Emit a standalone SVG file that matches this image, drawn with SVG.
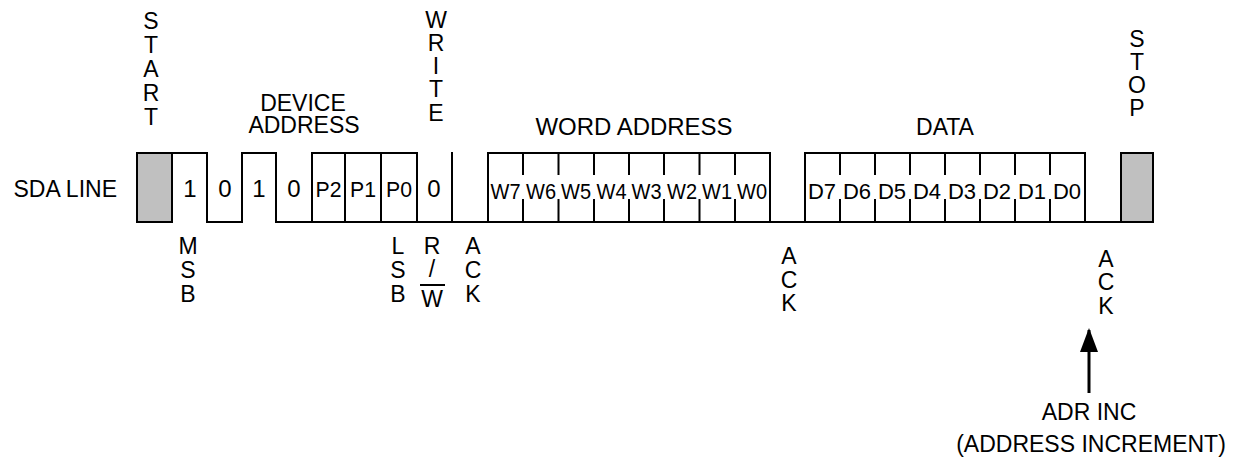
<svg xmlns="http://www.w3.org/2000/svg" width="1241" height="461" viewBox="0 0 1241 461">
<style>
  text { font-family: "Liberation Sans", Arial, sans-serif; fill: #000; }
  .lbl { font-size: 23px; }
  .mid { text-anchor: middle; }
  .bit { font-size: 24px; text-anchor: middle; }
  .sm { font-size: 22px; text-anchor: middle; }
  .wave { fill: none; stroke: #000; stroke-width: 2; stroke-linecap: square; }
  .gray { fill: #c0c0c0; stroke: #000; stroke-width: 2; }
  .tick { stroke: #000; stroke-width: 2; }
</style>
<defs>
  <marker id="ah" viewBox="0 0 24 18" refX="22" refY="9" markerWidth="24" markerHeight="18" markerUnits="userSpaceOnUse" orient="auto">
    <path d="M0,0 L24,9 L0,18 Z" fill="#000"/>
  </marker>
</defs>
<rect width="1241" height="461" fill="#fff"/>

<g id="sda-label">
  <text class="lbl" x="117" y="197" text-anchor="end">SDA LINE</text>
</g>

<g id="start">
  <rect class="gray" x="137" y="153" width="35" height="69"/>
  <text class="lbl mid" x="151"><tspan x="151" y="29">S</tspan><tspan x="151" y="53">T</tspan><tspan x="151" y="77">A</tspan><tspan x="151" y="101">R</tspan><tspan x="151" y="125">T</tspan></text>
</g>

<g id="waveform">
  <path class="wave" d="M172,153 H207 V222 H242 V153 H276 V222 H1121"/>
  <path class="wave" d="M312,222 V153 H417 V222 M345,153 V222 M381,153 V222 M452,153 V222"/>
  <path class="wave" d="M488,222 V153 H770 V222"/>
  <path class="wave" d="M805,222 V153 H1085 V222"/>
</g>

<g id="device-address">
  <text class="lbl mid" x="303" y="111">DEVICE</text>
  <text class="lbl mid" x="304" y="133">ADDRESS</text>
  <text class="bit" x="190" y="197">1</text>
  <text class="bit" x="225" y="197">0</text>
  <text class="bit" x="259" y="197">1</text>
  <text class="bit" x="294" y="197">0</text>
  <text class="sm" x="328.5" y="197" textLength="26" lengthAdjust="spacingAndGlyphs">P2</text>
  <text class="sm" x="363" y="197" textLength="26" lengthAdjust="spacingAndGlyphs">P1</text>
  <text class="sm" x="399" y="197" textLength="26" lengthAdjust="spacingAndGlyphs">P0</text>
  <text class="lbl mid"><tspan x="188" y="254">M</tspan><tspan x="188" y="278">S</tspan><tspan x="188" y="302">B</tspan></text>
  <text class="lbl mid"><tspan x="398" y="254">L</tspan><tspan x="398" y="278">S</tspan><tspan x="398" y="302">B</tspan></text>
</g>

<g id="write">
  <text class="lbl mid"><tspan x="436" y="28">W</tspan><tspan x="436" y="51">R</tspan><tspan x="436" y="74">I</tspan><tspan x="436" y="97">T</tspan><tspan x="436" y="121">E</tspan></text>
  <text class="bit" x="434" y="197">0</text>
  <text class="lbl mid"><tspan x="432" y="254">R</tspan><tspan x="432" y="277">/</tspan><tspan x="432" y="307">W</tspan></text>
  <line class="tick" x1="420" y1="285" x2="445" y2="285"/>
</g>

<g id="ack1">
  <text class="lbl mid"><tspan x="473" y="254">A</tspan><tspan x="473" y="278">C</tspan><tspan x="473" y="302">K</tspan></text>
</g>

<g id="word-address">
  <text class="lbl mid" x="634" y="135" textLength="197" lengthAdjust="spacingAndGlyphs">WORD ADDRESS</text>
  <path class="tick" d="M523,153 V175 M523,199 V222 M558.5,153 V175 M558.5,199 V222 M594,153 V175 M594,199 V222 M629,153 V175 M629,199 V222 M664,153 V175 M664,199 V222 M699.5,153 V175 M699.5,199 V222 M735,153 V175 M735,199 V222"/>
  <text class="sm" x="505.5" y="199" textLength="30" lengthAdjust="spacingAndGlyphs">W7</text>
  <text class="sm" x="541" y="199" textLength="30" lengthAdjust="spacingAndGlyphs">W6</text>
  <text class="sm" x="576" y="199" textLength="30" lengthAdjust="spacingAndGlyphs">W5</text>
  <text class="sm" x="611.5" y="199" textLength="30" lengthAdjust="spacingAndGlyphs">W4</text>
  <text class="sm" x="646.5" y="199" textLength="30" lengthAdjust="spacingAndGlyphs">W3</text>
  <text class="sm" x="682" y="199" textLength="30" lengthAdjust="spacingAndGlyphs">W2</text>
  <text class="sm" x="717" y="199" textLength="30" lengthAdjust="spacingAndGlyphs">W1</text>
  <text class="sm" x="752" y="199" textLength="30" lengthAdjust="spacingAndGlyphs">W0</text>
</g>

<g id="ack2">
  <text class="lbl mid"><tspan x="789" y="264">A</tspan><tspan x="789" y="288">C</tspan><tspan x="789" y="311">K</tspan></text>
</g>

<g id="data">
  <text class="lbl mid" x="945" y="135">DATA</text>
  <path class="tick" d="M840,153 V175 M840,199 V222 M875,153 V175 M875,199 V222 M910,153 V175 M910,199 V222 M945,153 V175 M945,199 V222 M980,153 V175 M980,199 V222 M1015,153 V175 M1015,199 V222 M1050,153 V175 M1050,199 V222"/>
  <text class="sm" x="822" y="199">D7</text>
  <text class="sm" x="857" y="199">D6</text>
  <text class="sm" x="892" y="199">D5</text>
  <text class="sm" x="927" y="199">D4</text>
  <text class="sm" x="962" y="199">D3</text>
  <text class="sm" x="997" y="199">D2</text>
  <text class="sm" x="1032" y="199">D1</text>
  <text class="sm" x="1067" y="199">D0</text>
</g>

<g id="ack3">
  <text class="lbl mid"><tspan x="1106" y="267">A</tspan><tspan x="1106" y="290">C</tspan><tspan x="1106" y="314">K</tspan></text>
</g>

<g id="stop">
  <rect class="gray" x="1121" y="153" width="32" height="69"/>
  <text class="lbl mid"><tspan x="1137" y="47">S</tspan><tspan x="1137" y="70">T</tspan><tspan x="1137" y="93">O</tspan><tspan x="1137" y="116">P</tspan></text>
</g>

<g id="connectors">
  <line x1="1089" y1="393" x2="1089" y2="330" stroke="#000" stroke-width="3" marker-end="url(#ah)"/>
</g>

<g id="adr-inc">
  <text class="lbl mid" x="1089" y="420">ADR INC</text>
  <text class="lbl mid" x="1091" y="452">(ADDRESS INCREMENT)</text>
</g>
</svg>
